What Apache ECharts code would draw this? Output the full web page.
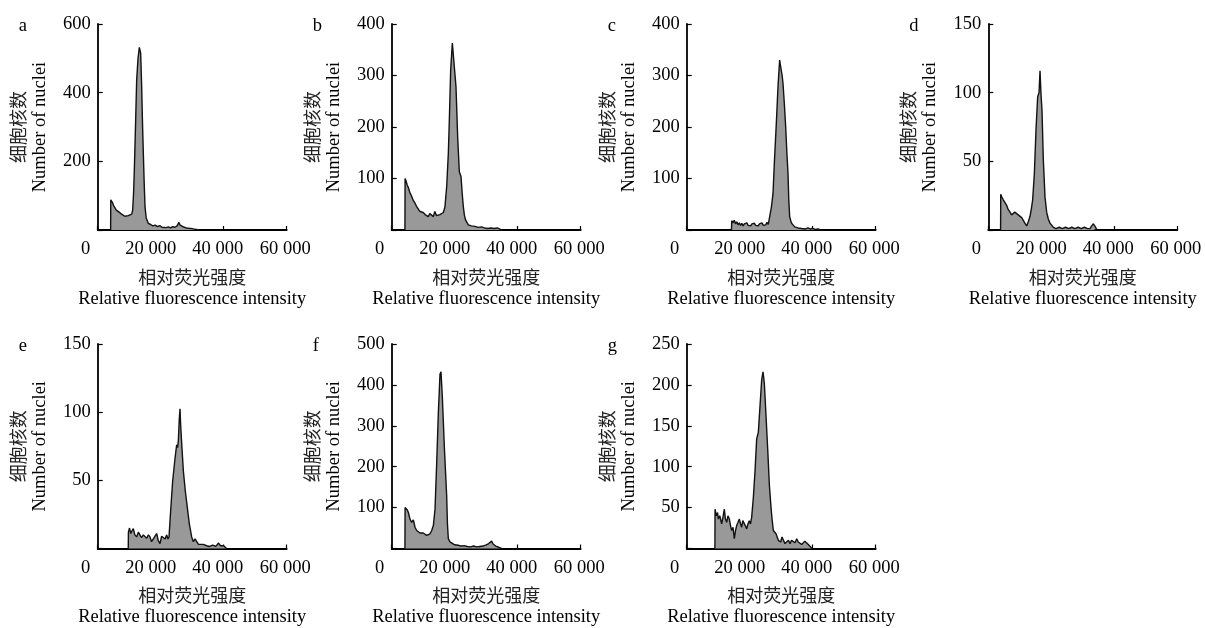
<!DOCTYPE html>
<html>
<head>
<meta charset="utf-8">
<title>Relative fluorescence histograms</title>
<script src="https://cdn.jsdelivr.net/npm/echarts@6/dist/echarts.min.js"></script>
<style>
  html, body { margin: 0; padding: 0; background: #fff; }
  #chart { width: 1205px; height: 628px; }
</style>
</head>
<body>
<div id="chart"></div>
<script>
// panel letters, y-axis ranges, x ticks
const panelLetters = ['a', 'b', 'c', 'd', 'e', 'f', 'g'];
const yMaxes = [600, 400, 400, 150, 150, 500, 250];
const yIntervals = [200, 100, 100, 50, 50, 100, 50];
const xTicks = [0, 20000, 40000, 60000];

// histograms: [relative fluorescence intensity, number of nuclei]
const histA = [[4100,0],[4150,88],[4400,92],[4700,80],[5000,72],[5400,66],[5900,58],[6400,56],[6800,52],[7100,50],[7600,46],[8100,44],[8600,40],[9200,38],[9700,42],[10200,41],[10800,46],[11100,58],[11400,110],[11630,175],[12050,320],[12370,437],[12800,500],[13220,532],[13640,515],[13960,418],[14200,320],[14490,223],[14750,140],[15020,68],[15400,35],[16080,19],[16800,16],[17500,12],[18200,14],[19000,10],[19700,13],[20400,8],[21000,12],[21700,7],[22400,9],[23100,6],[23800,10],[24500,8],[25200,12],[25800,22],[26200,14],[26800,10],[27500,8],[28200,6],[29000,5],[30000,4],[31000,2],[32200,0]];
const histB = [[4200,0],[4250,100],[4500,96],[4900,88],[5300,82],[5800,72],[6300,66],[6800,58],[7400,52],[7900,46],[8500,40],[9000,36],[9500,33],[10000,34],[10600,30],[11100,28],[11600,26],[12100,32],[12700,30],[13200,26],[13700,36],[14200,28],[14800,25],[15300,30],[15900,28],[16400,34],[16900,45],[17450,84],[17980,149],[18300,214],[18720,311],[19250,363],[19600,366],[19880,360],[20410,278],[20940,181],[21470,113],[22000,104],[22400,70],[22740,45],[23100,28],[23480,19],[24330,10],[25300,8],[26400,7],[27500,5],[28500,6],[29500,4],[30500,3],[31500,4],[32500,3],[33500,4],[34200,2],[34900,0]];
const histC = [[14200,0],[14300,18],[14700,14],[15100,19],[15500,12],[15900,16],[16300,10],[16700,14],[17100,9],[17500,13],[17900,8],[18300,12],[18700,10],[19100,14],[19500,9],[19900,11],[20300,8],[20700,12],[21100,10],[21500,13],[21900,9],[22300,11],[22700,8],[23100,12],[23500,10],[23900,14],[24300,9],[24700,12],[25100,10],[25500,15],[25900,11],[26340,26],[26900,45],[27400,71],[27900,140],[28450,207],[28980,278],[29300,310],[29510,330],[29800,318],[30040,317],[30300,300],[30570,285],[31000,245],[31420,201],[31800,150],[32160,110],[32400,60],[32690,26],[33200,14],[33750,10],[34300,6],[34800,8],[35300,4],[35900,6],[36500,3],[37100,5],[37800,2],[38500,4],[39200,2],[40000,3],[40800,1],[41700,2],[42500,0]];
const histD = [[3900,0],[3950,26],[4300,24],[4770,22],[5300,20],[5830,18],[6300,15],[6890,13],[7400,11],[7950,10],[8400,13],[9000,14],[9500,11],[10060,12],[10600,9],[11120,7],[11600,5],[12180,3],[12700,6],[13240,10],[13700,16],[14080,22],[14620,41],[15140,73],[15670,97],[16100,100],[16420,116],[16730,99],[17050,87],[17470,51],[18000,24],[18530,13],[19050,8],[19590,5],[20650,2],[21500,1],[22500,2],[23500,1],[24500,2],[25500,1],[26500,2],[27500,1],[28500,2],[29500,1],[30500,2],[31500,1],[32300,1],[32800,3],[33350,4.5],[33800,3],[34300,1],[34700,0]];
const histE = [[9700,0],[9750,12],[10100,15],[10500,11],[10900,13],[11310,14.5],[11800,10],[12370,8.5],[12900,12],[13430,11],[13900,8],[14490,10],[15000,9],[15550,7.5],[16100,10],[16600,8.5],[17100,5],[17660,6],[18200,9],[18720,11],[19200,6],[19780,3.6],[20300,9],[20840,8.5],[21400,7],[21900,10],[22300,7],[22640,8.5],[23170,28],[23800,49.5],[24540,66],[25070,76],[25350,74],[25600,79],[25900,95],[26130,102.5],[26350,90],[26560,81],[27190,57],[27820,42],[28460,30],[29090,18],[29830,8.5],[30360,5],[30900,7],[31420,6],[32000,3],[32480,2.5],[33500,3],[34600,2],[35500,1.5],[36500,2.5],[37500,1.5],[38300,4],[39000,2],[40000,2],[40900,0]];
const histF = [[4200,0],[4250,100],[4500,104],[4900,95],[5290,88],[5800,72],[6340,64],[6870,70],[7400,52],[7930,44],[8500,40],[9000,38],[9510,36],[10000,38],[10600,34],[11100,32],[11600,35],[12160,36],[12700,44],[13220,56],[13750,96],[14280,209],[14800,330],[15330,426],[15650,432],[16080,370],[16710,249],[17450,129],[17700,60],[17980,24],[18500,16],[19040,12],[20000,9],[21150,8],[22000,6],[23000,7],[24000,5],[25000,4],[26000,6],[27000,4],[28000,5],[29000,6],[30000,9],[30800,12],[31300,10],[31700,18],[32200,11],[33000,6],[34000,3],[34900,0]];
const histG = [[8950,0],[9000,48],[9400,40],[9800,44],[10040,36],[10500,40],[11100,30],[11500,38],[11950,48],[12300,36],[12690,32],[13100,40],[13540,36],[13900,28],[14280,22],[14700,26],[15120,12],[15500,22],[15860,28],[16300,32],[16710,36],[17100,30],[17450,26],[17800,34],[18190,32],[18600,28],[19040,24],[19450,30],[19880,34],[20250,30],[20620,38],[21150,62],[21680,94],[22210,134],[22740,142],[23270,174],[23800,206],[24230,216],[24650,202],[25180,162],[25710,122],[26240,78],[26770,50],[27100,36],[27510,22],[28350,18],[29090,10],[29830,8],[30250,14],[30680,12],[31200,6],[31740,8],[32300,10],[32800,6],[33300,10],[33860,9],[34400,7],[34920,12],[35400,8],[35970,9],[36500,5],[37030,6],[37500,9],[38090,8],[38600,5],[39150,5],[39800,0]];
const histograms = [histA, histB, histC, histD, histE, histF, histG];

// plot boxes (left, top) in pixels
const boxLefts = [97.7, 391.7, 686.7, 988.3, 97.7, 391.7, 686.7];
const boxTops = [24, 24, 24, 24, 344, 344, 344];
const boxW = 189, boxH = 206;

const SERIF = 'Liberation Serif, Times New Roman, serif';
const CJK = 'Noto Sans CJK SC, sans-serif';
const FS = 18.5;

const chart = echarts.init(document.getElementById('chart'), null, { renderer: 'canvas' });

const grids = [], xAxes = [], yAxes = [], series = [], titles = [];

// label shift per x tick (labels in the figure sit slightly left of their ticks)
const xLabelPad = [24, 20, 12, 3];
const xRich = {};
xLabelPad.forEach((p, k) => {
  xRich['p' + k] = { fontFamily: SERIF, fontSize: FS, color: '#000', padding: [0, p, 0, 0] };
});

histograms.forEach((hist, i) => {
  grids.push({ left: boxLefts[i], top: boxTops[i], width: boxW, height: boxH + (i >= 4 ? 1.5 : 0) });

  xAxes.push({
    type: 'value', gridIndex: i, min: 0, max: 60000, interval: 20000,
    splitLine: { show: false },
    axisLine: { lineStyle: { color: '#000', width: 1.8 } },
    axisTick: { inside: true, length: 4, lineStyle: { color: '#000', width: 1.2 } },
    axisLabel: {
      margin: 10,
      formatter: v => {
        const k = xTicks.indexOf(v);
        const txt = v === 0 ? '0' : (v / 1000) + ' 000';
        return '{p' + k + '|' + txt + '}';
      },
      rich: xRich
    },
    name: '{cn|相对荧光强度}\n{en|Relative fluorescence intensity}',
    nameLocation: 'middle', nameGap: 36,
    nameTextStyle: {
      align: 'center',
      rich: {
        cn: { fontFamily: CJK, fontSize: 18, color: '#222', lineHeight: 22, align: 'center' },
        en: { fontFamily: SERIF, fontSize: FS, color: '#000', lineHeight: 22, align: 'center' }
      }
    }
  });

  yAxes.push({
    type: 'value', gridIndex: i, min: 0, max: yMaxes[i], interval: yIntervals[i],
    splitLine: { show: false },
    axisLine: { show: true, lineStyle: { color: '#000', width: 1.8 } },
    axisTick: { show: true, inside: true, length: 5, lineStyle: { color: '#000', width: 1.2 } },
    axisLabel: {
      margin: 7, fontFamily: SERIF, fontSize: FS, color: '#000',
      formatter: v => (v === 0 ? '' : String(v))
    },
    name: '{cn|细胞核数}\n{en|Number of nuclei}',
    nameLocation: 'middle', nameRotate: 90, nameGap: 47,
    nameTextStyle: {
      align: 'center',
      rich: {
        cn: { fontFamily: CJK, fontSize: 18, color: '#222', lineHeight: 22, align: 'center' },
        en: { fontFamily: SERIF, fontSize: FS, color: '#000', lineHeight: 22, align: 'center' }
      }
    }
  });

  series.push({
    type: 'line', xAxisIndex: i, yAxisIndex: i, data: hist,
    symbol: 'none', silent: true, z: 1,
    lineStyle: { color: '#111', width: 1.4 },
    areaStyle: { color: '#999999', opacity: 1 }
  });

  titles.push({
    text: panelLetters[i],
    left: boxLefts[i] - 84,
    top: boxTops[i] - 12,
    textStyle: { fontFamily: SERIF, fontSize: FS, fontWeight: 'normal', color: '#000' }
  });
});

chart.setOption({
  animation: false,
  backgroundColor: '#fff',
  title: titles,
  grid: grids,
  xAxis: xAxes,
  yAxis: yAxes,
  series: series
});
</script>
</body>
</html>
